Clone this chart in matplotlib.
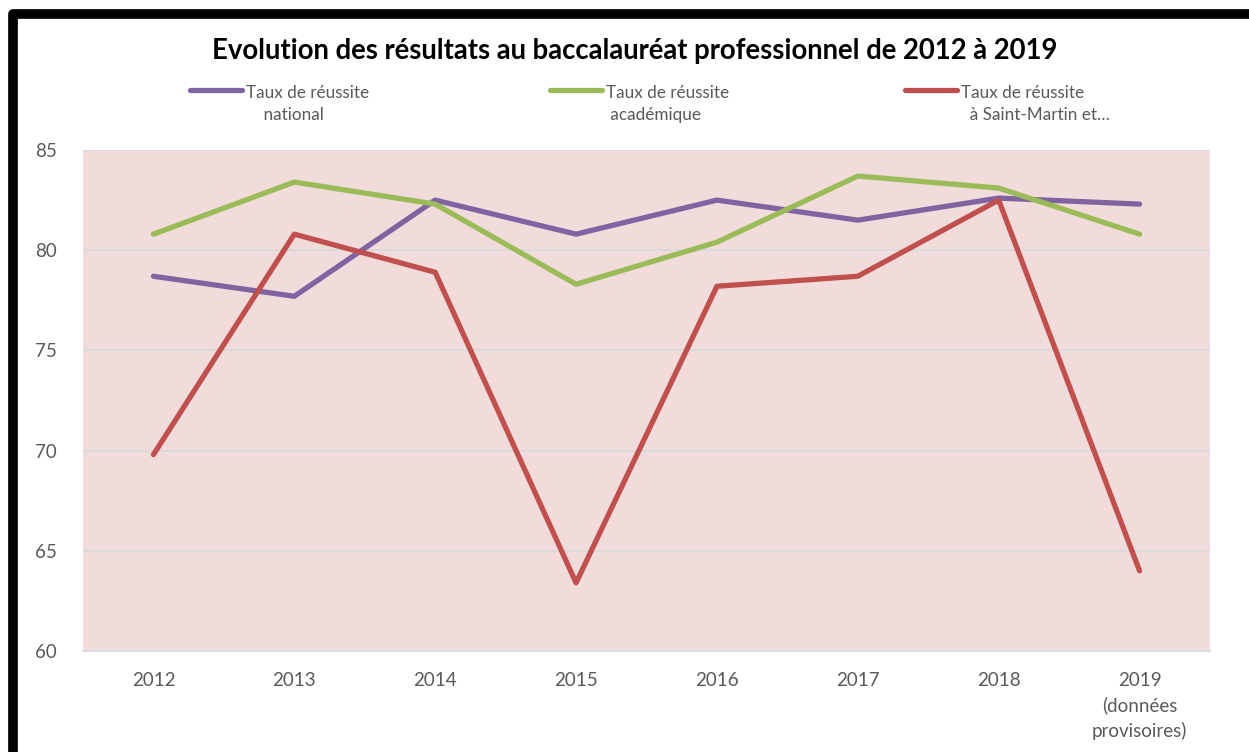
import matplotlib
matplotlib.use("Agg")
import matplotlib.pyplot as plt
from matplotlib.lines import Line2D
from matplotlib.patches import Rectangle

years = ["2012", "2013", "2014", "2015", "2016", "2017", "2018", "2019\n(données\nprovisoires)"]
national = [78.7, 77.7, 82.5, 80.8, 82.5, 81.5, 82.6, 82.3]
academique = [80.8, 83.4, 82.3, 78.3, 80.4, 83.7, 83.1, 80.8]
saint_martin = [69.8, 80.8, 78.9, 63.4, 78.2, 78.7, 82.5, 64.0]
series_labels = ["Taux de réussite\n    national", "Taux de réussite\n académique", "Taux de réussite\n  à Saint-Martin et…"]
title = "Evolution des résultats au baccalauréat professionnel de 2012 à 2019"
yticks = [60, 65, 70, 75, 80, 85]

colors = ["#8064A2", "#9BBB59", "#C0504D"]
plt.rcParams['font.family'] = ['Lato', 'DejaVu Sans']

W, H = 1249, 752
fig = plt.figure(figsize=(W / 100, H / 100), dpi=100)
ax = fig.add_axes([83 / W, 1 - 651 / H, (1210 - 83) / W, (651 - 150) / H])
ax.set_facecolor("#F2DCDB")

x = list(range(len(years)))
for vals, c in zip([national, academique, saint_martin], colors):
    ax.plot(x, vals, color=c, lw=3.8, solid_capstyle="round", solid_joinstyle="round", zorder=3)

ax.set_xlim(-0.5, len(years) - 0.5)
ax.set_ylim(60, 85)
ax.set_yticks(yticks)
ax.set_xticks(x)
ax.set_xticklabels(years, linespacing=1.5, va="top")
ax.tick_params(axis="both", length=0, labelsize=13.5, labelcolor="#595959")
ax.tick_params(axis="x", pad=15)
ax.tick_params(axis="y", pad=19)
ax.grid(axis="y", color="#D9D9D9", lw=1.3, zorder=1)
for s in ["left", "right", "top"]:
    ax.spines[s].set_visible(False)
ax.spines["bottom"].set_color("#D9D9D9")
ax.spines["bottom"].set_linewidth(1.3)

fig.text(635 / W, 1 - 51 / H, title, ha="center", va="center", fontsize=19.8, fontweight="bold", color="black")

legend_x = [190, 550, 905]
for lx, c, lab in zip(legend_x, colors, series_labels):
    fig.add_artist(Line2D([lx / W, (lx + 52) / W], [1 - 90 / H, 1 - 90 / H], color=c, lw=3.8,
                          solid_capstyle="round", transform=fig.transFigure))
    fig.text((lx + 56) / W, 1 - 85 / H, lab, ha="left", va="top", fontsize=12.3,
             color="#595959", linespacing=1.45)

fig.add_artist(Rectangle((13 / W, -0.1), 1.2, 1 - 14 / H + 0.1, transform=fig.transFigure,
                         fill=False, edgecolor="black", lw=7, joinstyle="round"))

fig.savefig("out.png", dpi=100)
